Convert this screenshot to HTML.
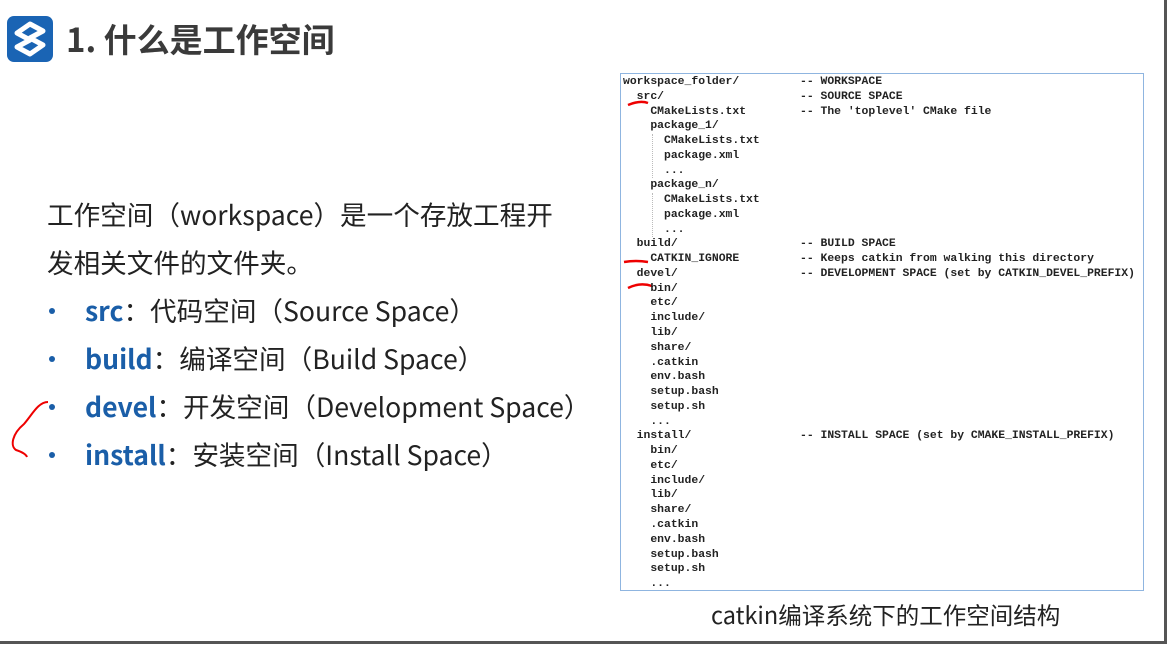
<!DOCTYPE html>
<html><head><meta charset="utf-8"><style>
body{margin:0;width:1169px;height:646px;background:#fff;position:relative;overflow:hidden;font-family:"Liberation Sans","Noto Sans CJK SC",sans-serif}
.frame{position:absolute;left:0;top:0;width:1164px;height:641px;border-right:3px solid #555;border-bottom:3px solid #555;box-sizing:content-box}
.logo{position:absolute;left:7px;top:16px;width:46px;height:46px;background:#1a64b4;border-radius:7px}
.title{position:absolute;left:66px;top:15px;font-size:33px;font-weight:bold;color:#3a3a3a;line-height:46px;font-family:"Noto Sans CJK SC",sans-serif}
.t{position:absolute;font-family:"Noto Sans CJK SC",sans-serif;font-size:26.6px;color:#222;line-height:32px;white-space:nowrap}
.k{color:#1a5ea8;font-weight:bold}
.dot{position:absolute;left:49px;width:6px;height:6px;border-radius:50%;background:#1a5ea8}
.box{position:absolute;left:620px;top:73px;width:524px;height:518px;border:1px solid #8fb5e0;box-sizing:border-box}
pre{position:absolute;margin:0;font-family:"Liberation Mono",monospace;font-size:11.4px;line-height:14.76px;font-weight:bold;color:#222}
.cap{position:absolute;left:711px;top:598px;font-size:23.5px;color:#222;font-family:"Noto Sans CJK SC",sans-serif;line-height:32px}
.g{position:absolute;border-left:1px dotted #bbb;width:0}
</style></head><body>
<div class="frame"></div>
<div class="logo"><svg width="46" height="46" viewBox="0 0 46 46"><path d="M23 8 L36 15 L23 22 L36 29 L23 38 L10 31 L23 24 L10 17 Z" fill="none" stroke="#fff" stroke-width="5" stroke-linejoin="round"/></svg></div>
<div class="title">1. 什么是工作空间</div>

<div class="t" style="left:47px;top:198px">工作空间（workspace）是一个存放工程开</div>
<div class="t" style="left:47px;top:246px">发相关文件的文件夹。</div>
<div class="dot" style="top:308px"></div>
<div class="t" style="left:85px;top:294px"><span class="k">src</span>：代码空间（Source Space）</div>
<div class="dot" style="top:356px"></div>
<div class="t" style="left:85px;top:342px"><span class="k">build</span>：编译空间（Build Space）</div>
<div class="dot" style="top:404px"></div>
<div class="t" style="left:85px;top:390px"><span class="k">devel</span>：开发空间（Development Space）</div>
<div class="dot" style="top:452px"></div>
<div class="t" style="left:85px;top:438px"><span class="k">install</span>：安装空间（Install Space）</div>
<svg style="position:absolute;left:0;top:0" width="1169" height="646">
<path d="M48 402 C38 402 32 415 24 424 C12 434 10 446 16 450 C22 452 26 454 27 457" fill="none" stroke="#e00" stroke-width="2"/>
<path d="M628 105 Q640 100 648 103" stroke="#e00" stroke-width="2.5" fill="none"/>
<path d="M624 262 Q636 260 648 262" stroke="#e00" stroke-width="2.5" fill="none"/>
<path d="M628 288 Q640 282 652 286" stroke="#e00" stroke-width="2.5" fill="none"/>
</svg>
<div class="box"></div>
<div class="g" style="left:652px;top:134px;height:44px"></div>
<div class="g" style="left:652px;top:193px;height:44px"></div>
<pre style="left:623px;top:75px">workspace_folder/
  src/
    CMakeLists.txt
    package_1/
      CMakeLists.txt
      package.xml
      ...
    package_n/
      CMakeLists.txt
      package.xml
      ...
  build/
    CATKIN_IGNORE
  devel/
    bin/
    etc/
    include/
    lib/
    share/
    .catkin
    env.bash
    setup.bash
    setup.sh
    ...
  install/
    bin/
    etc/
    include/
    lib/
    share/
    .catkin
    env.bash
    setup.bash
    setup.sh
    ...</pre>
<pre style="left:800px;top:75px">-- WORKSPACE
-- SOURCE SPACE
-- The 'toplevel' CMake file








-- BUILD SPACE
-- Keeps catkin from walking this directory
-- DEVELOPMENT SPACE (set by CATKIN_DEVEL_PREFIX)










-- INSTALL SPACE (set by CMAKE_INSTALL_PREFIX)</pre>
<div class="cap">catkin编译系统下的工作空间结构</div>
</body></html>
